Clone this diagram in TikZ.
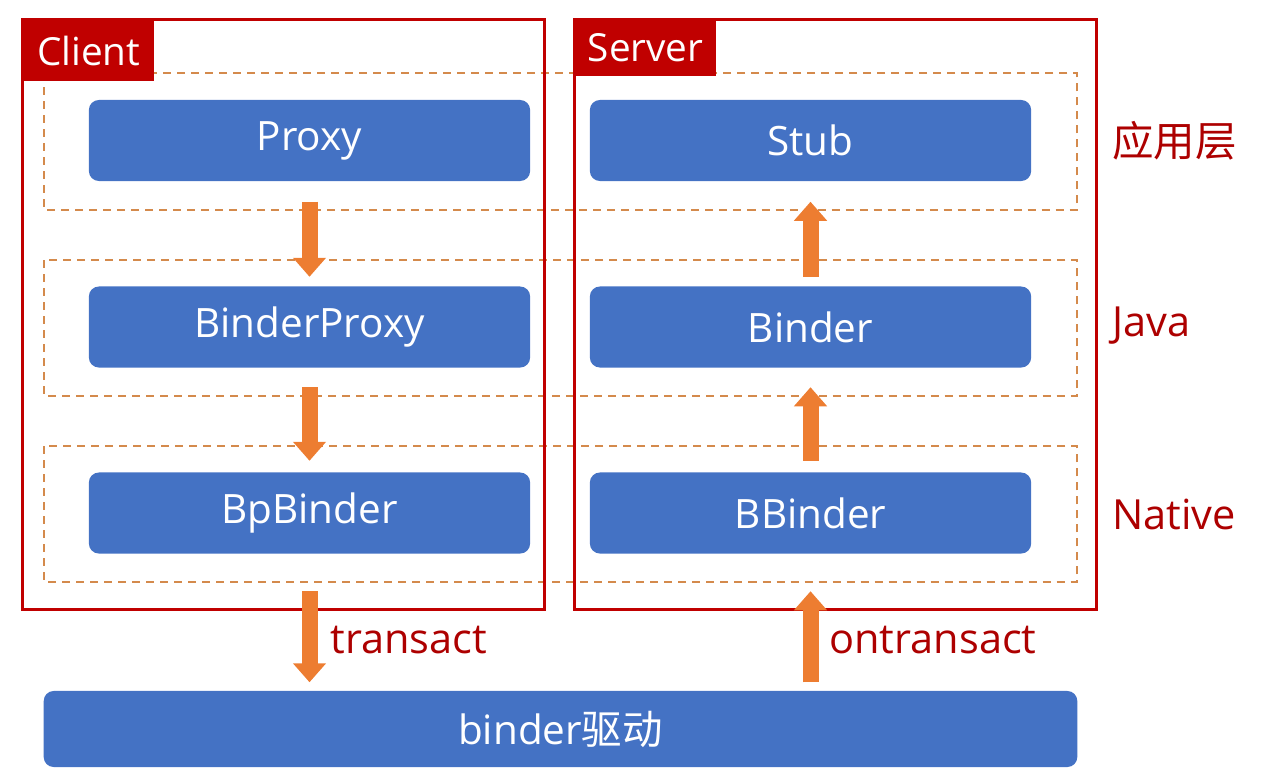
\documentclass[tikz,border=0pt]{standalone}
\usepackage{fontspec}
\setmainfont{Open Sans}
\newfontfamily\cjk{Noto Sans CJK SC}
\usetikzlibrary{positioning}
\usetikzlibrary{calc}
\usetikzlibrary{arrows.meta}
\definecolor{boxblue}{HTML}{4472C4}
\definecolor{flowor}{HTML}{ED7D31}
\definecolor{frred}{HTML}{C00000}
\definecolor{txred}{HTML}{AD0000}
\definecolor{dashor}{HTML}{D48A4C}

\begin{document}
\begin{tikzpicture}[x=0.01cm, y=-0.01cm,
                blk/.style={fill=boxblue, rounded corners=0.1cm, minimum width=4.41cm, minimum height=0.81cm, text=white, font=\fontsize{11.5}{13}\selectfont},
                frame/.style={draw=frred, line width=0.03cm, outer sep=0pt},
                tag/.style={fill=frred, text=white, anchor=north west, inner sep=0pt, font=\fontsize{11}{13}\selectfont},
                layer/.style={draw=dashor, line width=0.02cm, dash pattern=on 0.08cm off 0.06cm},
                flow/.style={draw=flowor, line width=0.16cm, -{Triangle[width=0.32cm, length=0.19cm]}},
                side/.style={text=txred, anchor=west, font=\fontsize{11.8}{13}\selectfont}]
                \useasboundingbox (0,0) rectangle (1274,773);
                \draw[layer] (44,73) rectangle (1077,210);
                \draw[layer] (44,260) rectangle (1077,396);
                \draw[layer] (44,446) rectangle (1077,582);
                \node[frame, minimum width=5.21cm, minimum height=5.89cm] (client) at (283.5,314.5) {};
                \node[frame, minimum width=5.21cm, minimum height=5.89cm] (server) at (835.5,314.5) {};
                \node[tag, minimum width=1.30cm, minimum height=0.60cm] (clienttag) at (client.north west) {Client};
                \node[tag, minimum width=1.40cm, minimum height=0.55cm] (servertag) at (server.north west) {Server};
                \node[blk] (proxy) at (309.5,140.5) {Proxy};
                \node[blk] (bproxy) at (309.5,327) {BinderProxy};
                \node[blk] (bpbinder) at (309.5,513) {BpBinder};
                \node[blk] (stub) at (810.5,140.5) {Stub};
                \node[blk] (binder) at (810.5,327) {Binder};
                \node[blk] (bbinder) at (810.5,513) {BBinder};
                \node[blk, minimum width=10.33cm, minimum height=0.76cm] (driver) at (560.5,729) {binder{\cjk 驱动}};
                \draw[flow, shorten <=0.2cm, shorten >=0.09cm] (proxy.south) -- (bproxy.north);
                \draw[flow, shorten <=0.19cm, shorten >=0.11cm] (bproxy.south) -- (bpbinder.north);
                \draw[flow, shorten <=0.37cm, shorten >=0.08cm] (bpbinder.south) -- (bpbinder.south |- driver.north);
                \draw[flow, shorten <=0.09cm, shorten >=0.2cm] (binder.north) -- (stub.south);
                \draw[flow, shorten <=0.11cm, shorten >=0.19cm] (bbinder.north) -- (binder.south);
                \draw[flow, shorten <=0.08cm, shorten >=0.37cm] (bbinder.south |- driver.north) -- (bbinder.south);
                \node[side] (transact) at (318,640) {transact};
                \node[side] (ontransact) at (817,640) {ontransact};
                \node[side] (applayer) at (1100,141) {\cjk 应用层};
                \node[side] (javalayer) at (1100,326) {Java};
                \node[side] (nativelayer) at (1100,514) {Native};
            \end{tikzpicture}
\end{document}
